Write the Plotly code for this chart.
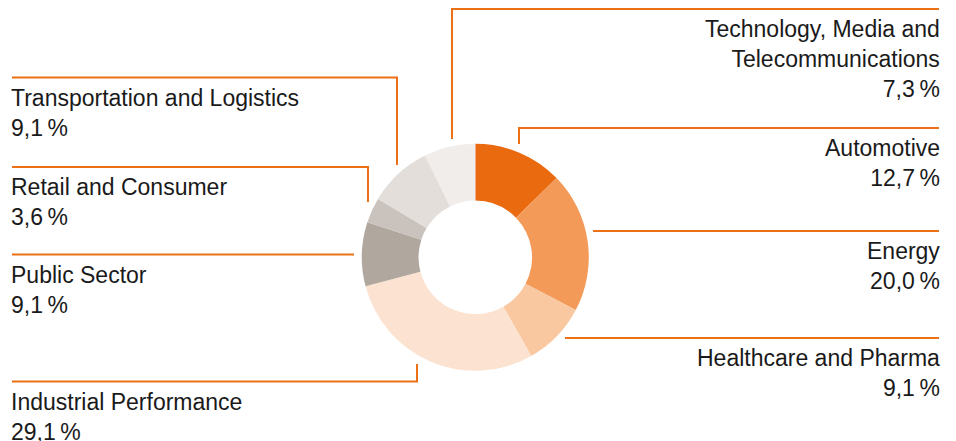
import plotly.graph_objects as go

# Sector shares (percent), clockwise from 12 o'clock
sectors = [
    "Automotive",
    "Energy",
    "Healthcare and Pharma",
    "Industrial Performance",
    "Public Sector",
    "Retail and Consumer",
    "Transportation and Logistics",
    "Technology, Media and Telecommunications",
]
shares = [12.7, 20.0, 9.1, 29.1, 9.1, 3.6, 9.1, 7.3]
label_text = [
    "Automotive",
    "Energy",
    "Healthcare and Pharma",
    "Industrial Performance",
    "Public Sector",
    "Retail and Consumer",
    "Transportation and Logistics",
    "Technology, Media and<br>Telecommunications",
]
colors = ["#EA6A10", "#F39A58", "#F9C8A1", "#FCE3D1",
          "#B0A79F", "#CAC3BD", "#E3DEDA", "#F1EDEA"]

W, H = 956, 441
ORANGE = "#EC7016"
TEXT = "#1a1a1a"
FONT = "Liberation Sans, Arial, sans-serif"
FS = 23

# donut placement (pixels)
cx, cy, r = 475.3, 257.3, 113.5

fig = go.Figure()
fig.add_trace(go.Pie(
    labels=sectors,
    values=shares,
    sort=False,
    direction="clockwise",
    rotation=0,
    hole=0.5,
    marker=dict(colors=colors, line=dict(width=0)),
    textinfo="none",
    hoverinfo="label+percent",
    domain=dict(x=[(cx - r) / W, (cx + r) / W],
                y=[(H - cy - r) / H, (H - cy + r) / H]),
    showlegend=False,
))

# leader lines: (side, horizontal y, x end near donut, vertical drop end y or None)
leaders = {
    "Technology, Media and Telecommunications": ("right", 9, 452, 139),
    "Automotive": ("right", 128, 519, 144),
    "Energy": ("right", 231, 593, None),
    "Healthcare and Pharma": ("right", 338, 565, None),
    "Industrial Performance": ("left", 381.5, 417, 364),
    "Public Sector": ("left", 254.5, 354, None),
    "Retail and Consumer": ("left", 167, 368, 202),
    "Transportation and Logistics": ("left", 77.5, 397, 165),
}
LEFT_X, RIGHT_X = 12, 939
TEXT_SHIFT = 3  # compensates for the annotation box padding

for name, text, val in zip(sectors, label_text, shares):
    side, ly, xe, ve = leaders[name]
    x0 = LEFT_X if side == "left" else RIGHT_X
    path = f"M{x0},{ly} L{xe},{ly}"
    if ve is not None:
        path += f" L{xe},{ve}"
    fig.add_shape(type="path", path=path, xref="x", yref="y",
                  line=dict(color=ORANGE, width=2))
    pct = f"{val:.1f}".replace(".", ",") + "\u2009%"
    tx = x0 - TEXT_SHIFT if side == "left" else x0 + TEXT_SHIFT
    fig.add_annotation(
        x=tx, y=ly + 5, xref="x", yref="y",
        xanchor="left" if side == "left" else "right",
        yanchor="top",
        align="left" if side == "left" else "right",
        text=f"{text}<br>{pct}",
        showarrow=False,
        font=dict(family=FONT, size=FS, color=TEXT),
    )

fig.update_layout(
    width=W, height=H,
    margin=dict(l=0, r=0, t=0, b=0),
    paper_bgcolor="white",
    plot_bgcolor="rgba(0,0,0,0)",
    xaxis=dict(range=[0, W], visible=False, fixedrange=True),
    yaxis=dict(range=[H, 0], visible=False, fixedrange=True),
)

fig.write_html("out.html")
